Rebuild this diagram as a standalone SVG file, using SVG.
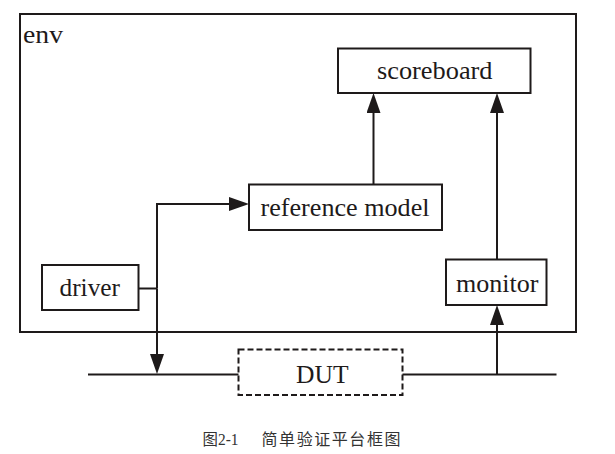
<svg xmlns="http://www.w3.org/2000/svg" width="615" height="454" viewBox="0 0 615 454">
  <style>
    .box { fill: #ffffff; stroke: #1e1a1a; stroke-width: 2; }
    .env { fill: none; stroke: #1e1a1a; stroke-width: 2; }
    .dut { fill: #ffffff; stroke: #1e1a1a; stroke-width: 2; stroke-dasharray: 6 3; }
    .lbl { font-family: "Liberation Serif", "Times New Roman", serif; font-size: 25px; fill: #1e1a1a; }
    .wire { fill: none; stroke: #1e1a1a; stroke-width: 2; }
    .arrow { fill: none; stroke: #1e1a1a; stroke-width: 2; marker-end: url(#ah); }
    .cap { font-family: "Liberation Serif", "Noto Sans CJK SC", serif; font-size: 16px; fill: #333333; }
  </style>
  <defs>
    <marker id="ah" markerUnits="userSpaceOnUse" markerWidth="20" markerHeight="14" refX="9" refY="7" orient="auto">
      <path d="M0,0 L20,7 L0,14 z" fill="#1e1a1a"/>
    </marker>
  </defs>
  <rect width="615" height="454" fill="#ffffff"/>

  <g id="env">
    <rect class="env" x="20" y="14" width="556" height="318"/>
    <text class="lbl" x="23" y="43" textLength="40" lengthAdjust="spacingAndGlyphs">env</text>
  </g>

  <g id="scoreboard">
    <rect class="box" x="338" y="48.5" width="192.5" height="44.5"/>
    <text class="lbl" x="377" y="78.5" textLength="115.5" lengthAdjust="spacingAndGlyphs">scoreboard</text>
  </g>

  <g id="reference-model">
    <rect class="box" x="249" y="184.5" width="193" height="45.5"/>
    <text class="lbl" x="260.5" y="216" textLength="169" lengthAdjust="spacingAndGlyphs">reference model</text>
  </g>

  <g id="driver">
    <rect class="box" x="42" y="265" width="96.5" height="45"/>
    <text class="lbl" x="59.5" y="296" textLength="60.5" lengthAdjust="spacingAndGlyphs">driver</text>
  </g>

  <g id="monitor">
    <rect class="box" x="446" y="259.5" width="100.5" height="45.5"/>
    <text class="lbl" x="456" y="291.5" textLength="82.5" lengthAdjust="spacingAndGlyphs">monitor</text>
  </g>

  <g id="DUT">
    <rect class="dut" x="238.5" y="349.5" width="164" height="45.5"/>
    <text class="lbl" x="296" y="382.5" textLength="52.5" lengthAdjust="spacingAndGlyphs">DUT</text>
  </g>

  <g id="connectors">
    <path class="wire" d="M88,374.5 H238.5"/>
    <path class="wire" d="M402.5,374.5 H556.5"/>
    <path class="wire" d="M138.5,288.5 H157"/>
    <path class="arrow" d="M157,288.5 V204 H238"/>
    <path class="arrow" d="M157,288.5 V363"/>
    <path class="arrow" d="M373.5,184.5 V104"/>
    <path class="arrow" d="M497,259.5 V104"/>
    <path class="arrow" d="M497,374.5 V316"/>
  </g>

  <g id="caption">
    <text class="cap" x="202.5" y="445" textLength="36" lengthAdjust="spacingAndGlyphs">图2-1</text>
    <text class="cap" x="261.5" y="445" textLength="139" lengthAdjust="spacing">简单验证平台框图</text>
  </g>
</svg>
